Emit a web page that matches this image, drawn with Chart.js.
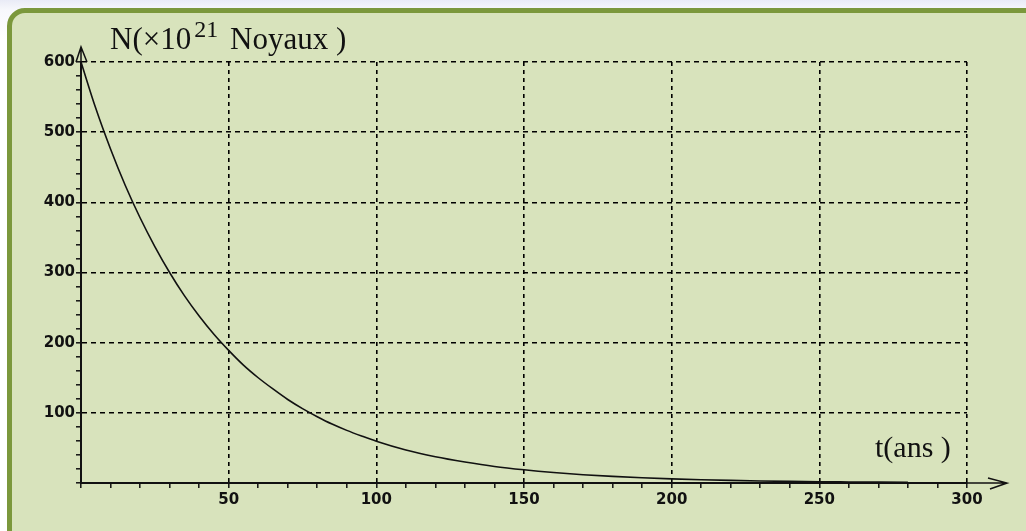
<!DOCTYPE html>
<html>
<head>
<meta charset="utf-8">
<script src="https://cdn.jsdelivr.net/npm/chart.js@4"></script>
<style>
  html, body { margin: 0; padding: 0; }
  body {
    width: 1026px; height: 531px; overflow: hidden; position: relative;
    background: linear-gradient(180deg, #e9ebf6 0px, #f7f8fc 10px, #ffffff 40px);
  }
  .card {
    position: absolute; left: 7px; top: 8px; width: 1040px; height: 540px;
    box-sizing: border-box;
    background: #d8e3bc;
    border: 5px solid #7b983c;
    border-radius: 18px;
  }
  .wrap { position: absolute; left: 0; top: 0; width: 1026px; height: 531px; }
</style>
</head>
<body>
<div class="card"></div>
<div class="wrap"><canvas id="decay" width="1026" height="531"></canvas></div>
<script>
// t (ans)
const years = [0, 5, 10, 15, 20, 25, 30, 35, 40, 45, 50, 55, 60, 65, 70, 75, 80, 85, 90, 95, 100,
               110, 120, 130, 140, 150, 160, 170, 180, 190, 200, 210, 220, 230, 240, 250, 260, 270, 280];
// N (x10^21 noyaux)
const noyaux = [600, 534, 476, 424, 378, 337, 300, 267, 238, 212, 189, 168, 150, 134, 119, 106, 94.5, 84, 75, 67, 59.5,
                47, 37.5, 30, 23.6, 18.8, 14.9, 11.8, 9.4, 7.4, 5.9, 4.7, 3.7, 2.9, 2.3, 1.8, 1.5, 1.2, 0.9];

const xLabels = [50, 100, 150, 200, 250, 300];
const yLabels = [100, 200, 300, 400, 500, 600];

const INK = '#111';

// fleches des axes + titres
const axisDecor = {
    id: 'axisDecor',
    afterDraw(chart) {
        const ctx = chart.ctx;
        const xs = chart.scales.x, ys = chart.scales.y;
        const x0 = xs.getPixelForValue(0);
        const xEnd = xs.getPixelForValue(300);
        const y0 = ys.getPixelForValue(0);
        const yTop = ys.getPixelForValue(600);

        ctx.save();
        ctx.strokeStyle = INK;
        ctx.lineWidth = 1.5;
        ctx.setLineDash([]);

        // axe vertical prolongé
        ctx.beginPath();
        ctx.moveTo(x0, yTop);
        ctx.lineTo(x0, yTop - 15);
        ctx.moveTo(x0 - 5, yTop);
        ctx.lineTo(x0, yTop - 15);
        ctx.lineTo(x0 + 6, yTop);
        ctx.stroke();

        // axe horizontal prolongé
        const tip = xEnd + 40;
        ctx.beginPath();
        ctx.moveTo(xEnd, y0);
        ctx.lineTo(tip, y0);
        ctx.moveTo(tip - 19, y0 - 5);
        ctx.lineTo(tip, y0);
        ctx.lineTo(tip - 17, y0 + 6);
        ctx.stroke();

        // titres
        ctx.fillStyle = INK;
        ctx.textBaseline = 'alphabetic';
        ctx.textAlign = 'left';
        ctx.font = '31px "Liberation Serif", "Times New Roman", serif';
        const tx = x0 + 29, ty = yTop - 13;
        ctx.fillText('N(×10', tx, ty);
        const w1 = ctx.measureText('N(×10').width;
        ctx.font = '24px "Liberation Serif", "Times New Roman", serif';
        ctx.fillText('21', tx + w1 + 3, ty - 12);
        ctx.font = '31px "Liberation Serif", "Times New Roman", serif';
        ctx.fillText('Noyaux )', x0 + 149, ty);

        ctx.font = '30px "Liberation Serif", "Times New Roman", serif';
        ctx.fillText('t(ans )', xEnd - 92, y0 - 26);
        ctx.restore();
    }
};

const tickFont = { family: '"DejaVu Sans", sans-serif', size: 15, weight: 'bold' };

new Chart(document.getElementById('decay'), {
    type: 'line',
    data: {
        datasets: [{
            data: years.map((t, i) => ({ x: t, y: noyaux[i] })),
            borderColor: INK,
            borderWidth: 1.6,
            pointRadius: 0,
            cubicInterpolationMode: 'monotone',
            fill: false,
            clip: false
        }]
    },
    options: {
        responsive: false,
        animation: false,
        devicePixelRatio: 1,
        layout: { padding: { left: 31, top: 62, right: 59, bottom: 18 } },
        plugins: { legend: { display: false }, tooltip: { enabled: false } },
        scales: {
            x: {
                type: 'linear',
                min: 0,
                max: 300,
                afterFit(scale) { scale.height = 30; },
                ticks: {
                    stepSize: 10,
                    autoSkip: false,
                    maxRotation: 0,
                    padding: 3,
                    color: INK,
                    font: tickFont,
                    callback: v => xLabels.includes(v) ? String(v) : ''
                },
                grid: {
                    color: c => (c.tick && c.tick.value % 50 === 0) ? '#000' : 'rgba(0,0,0,0)',
                    tickColor: INK,
                    tickLength: 5,
                    tickWidth: 1.5,
                    lineWidth: 1.6
                },
                border: { color: INK, width: 2, dash: [4, 4] }
            },
            y: {
                type: 'linear',
                min: 0,
                max: 600,
                afterFit(scale) { scale.width = 50; },
                ticks: {
                    stepSize: 20,
                    autoSkip: false,
                    padding: 1,
                    color: INK,
                    font: tickFont,
                    callback: v => yLabels.includes(v) ? String(v) : ''
                },
                grid: {
                    color: c => (c.tick && c.tick.value % 100 === 0) ? '#000' : 'rgba(0,0,0,0)',
                    tickColor: INK,
                    tickLength: 5,
                    tickWidth: 1.5,
                    lineWidth: 1.6
                },
                border: { color: INK, width: 2, dash: [5, 4] }
            }
        }
    },
    plugins: [axisDecor]
});
</script>
</body>
</html>
